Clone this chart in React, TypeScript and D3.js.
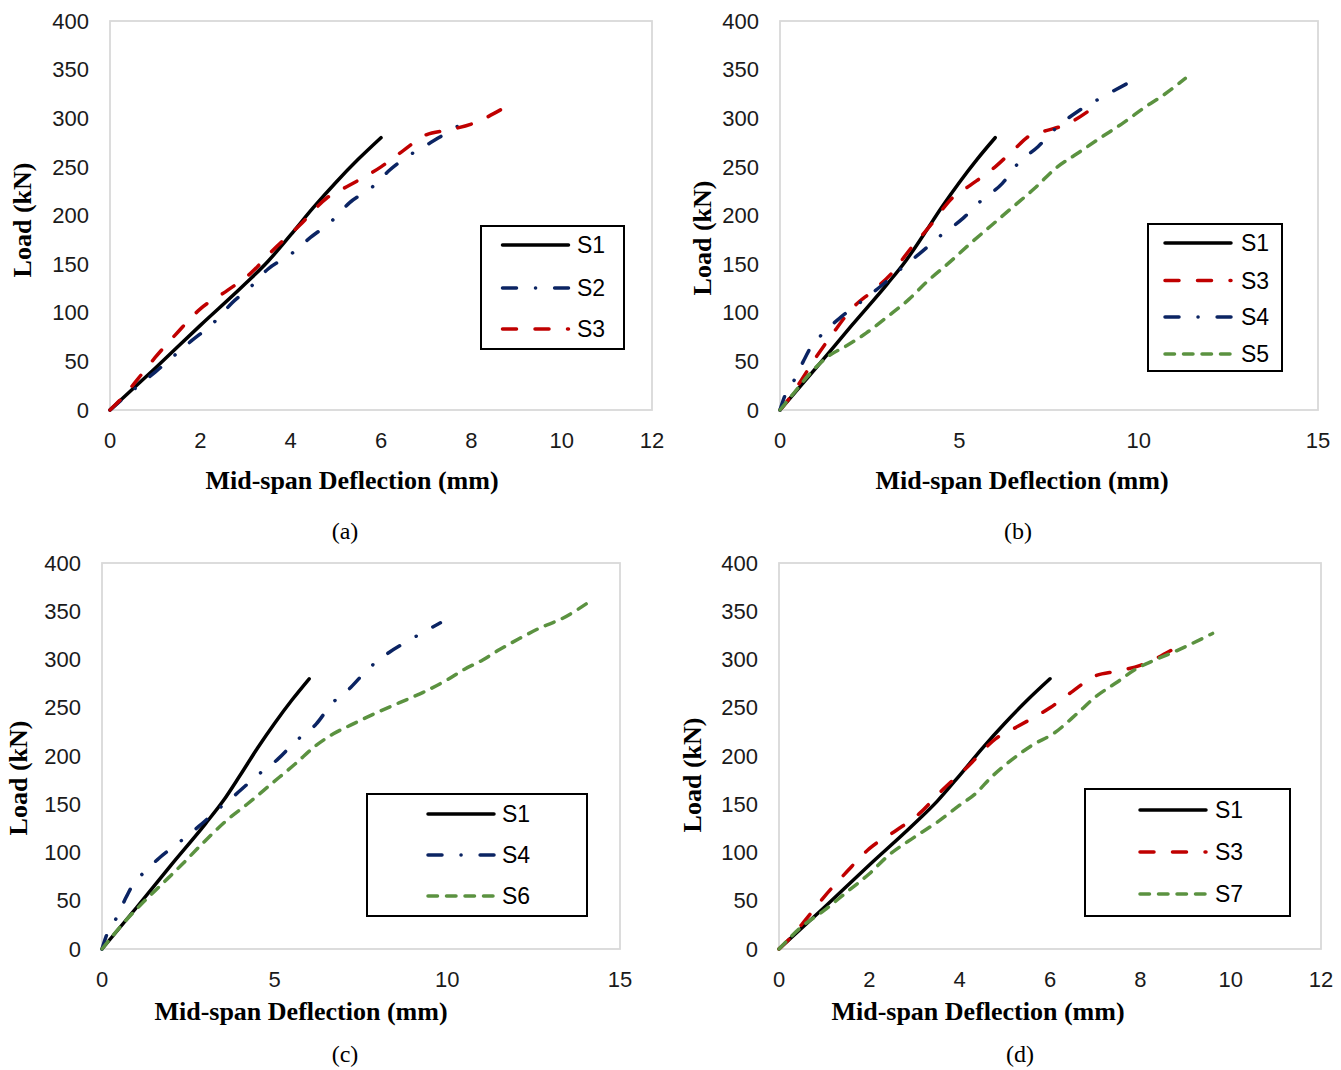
import React, { useEffect } from "react";
import * as d3 from "d3";

// axis ticks
const yTicks = [0, 50, 100, 150, 200, 250, 300, 350, 400];
const xTicks12 = [0, 2, 4, 6, 8, 10, 12];
const xTicks15 = [0, 5, 10, 15];

// load-deflection curves, [deflection mm, load kN]
const s1Data = [
  [0, 0], [1, 43], [2, 87], [3, 130], [3.5, 153], [4, 180],
  [4.5, 208], [5, 234], [5.5, 258], [6, 280],
];
const s2Data = [
  [0, 0], [0.5, 20], [1, 39], [1.8, 71], [2.3, 90], [2.7, 110], [3.1, 126],
  [3.5, 145], [4, 160], [4.4, 176], [4.9, 194], [5.3, 213], [5.8, 229],
  [6.2, 247], [6.6, 261], [7.1, 275], [7.6, 289], [8, 300],
];
const s3Data = [
  [0, 0], [0.3, 14], [0.6, 31], [1, 54], [1.5, 80], [2, 104], [2.6, 123],
  [3.1, 140], [3.6, 164], [4.2, 190], [4.8, 218], [5.3, 231], [6, 250],
  [6.5, 267], [7, 283], [7.5, 288], [8, 294], [8.7, 310],
];
const s4Data = [
  [0, 0], [0.13, 14], [0.4, 31], [0.65, 50], [0.85, 64], [1.15, 77],
  [1.65, 94], [2.25, 111], [2.8, 127], [3.4, 146], [3.9, 161], [4.5, 180],
  [5.1, 197], [5.6, 215], [6.2, 233], [6.65, 254], [7.2, 271], [7.7, 290],
  [8.3, 307], [8.9, 320], [9.8, 338],
];
const s5Data = [
  [0, 0], [0.4, 18], [0.8, 36], [1.3, 54], [1.9, 67], [2.4, 79], [3, 96],
  [3.6, 114], [4.1, 132], [4.7, 151], [5.3, 171], [5.9, 190], [6.5, 209],
  [7.1, 228], [7.7, 249], [8.3, 264], [8.9, 279], [9.6, 296], [10.2, 312],
  [10.7, 324], [11.3, 341],
];
const s6Data = [
  [0, 0], [0.6, 26], [1.1, 45], [1.7, 66], [2.3, 87], [2.9, 109], [3.6, 133],
  [4.2, 150], [4.9, 171], [5.6, 192], [6.2, 211], [6.7, 223], [7.2, 232],
  [7.9, 244], [8.6, 255], [9.3, 266], [10, 279], [10.5, 290], [11, 299],
  [11.5, 310], [12.1, 322], [12.7, 333], [13.3, 342], [14.2, 362],
];
const s7Data = [
  [0, 0], [0.5, 23], [1, 40], [1.5, 59], [2, 78], [2.4, 96], [3, 116],
  [3.55, 133], [4, 149], [4.35, 161], [4.7, 178], [5.15, 196], [5.6, 211],
  [6.1, 224], [6.6, 244], [7, 261], [7.5, 277], [7.9, 290], [8.3, 299],
  [8.8, 309], [9.6, 327],
];

const seriesData: Record<string, number[][]> = {
  S1: s1Data, S2: s2Data, S3: s3Data, S4: s4Data,
  S5: s5Data, S6: s6Data, S7: s7Data,
};

const navy = "#0b2463";
const red = "#c00000";
const green = "#5b9240";
const styles: Record<string, { color: string; dash: string }> = {
  S1: { color: "#000", dash: "none" },
  S2: { color: navy, dash: "14,19,0.1,19" },
  S3: { color: red, dash: "14,18.5" },
  S4: { color: navy, dash: "14,19,0.1,19" },
  S5: { color: green, dash: "9.5,9" },
  S6: { color: green, dash: "9.5,9" },
  S7: { color: green, dash: "9.5,9" },
};

const panels = [
  {
    caption: "(a)", names: ["S1", "S2", "S3"], xMax: 12, xTicks: xTicks12,
    plot: { l: 110, r: 652, t: 21, b: 410 },
    yTitle: [22, 220], xTitle: [352, 480], cap: [345, 531],
    legend: { x: 481, y: 226, w: 143, h: 123, rows: [245, 288, 329], x1: 502.5, tx: 577 },
  },
  {
    caption: "(b)", names: ["S1", "S3", "S4", "S5"], xMax: 15, xTicks: xTicks15,
    plot: { l: 780, r: 1318, t: 21, b: 410 },
    yTitle: [702, 238], xTitle: [1022, 480], cap: [1018, 531],
    legend: { x: 1148, y: 224, w: 134, h: 147, rows: [243, 280.5, 317, 354], x1: 1165, tx: 1241 },
  },
  {
    caption: "(c)", names: ["S1", "S4", "S6"], xMax: 15, xTicks: xTicks15,
    plot: { l: 102, r: 620, t: 563, b: 949 },
    yTitle: [18, 778], xTitle: [301, 1011], cap: [345, 1054],
    legend: { x: 367, y: 794, w: 220, h: 122, rows: [814, 855, 896], x1: 428, tx: 502 },
  },
  {
    caption: "(d)", names: ["S1", "S3", "S7"], xMax: 12, xTicks: xTicks12,
    plot: { l: 779, r: 1321, t: 563, b: 949 },
    yTitle: [692, 775], xTitle: [978, 1011], cap: [1020, 1054],
    legend: { x: 1085, y: 789, w: 205, h: 127, rows: [810, 852, 894], x1: 1140, tx: 1215 },
  },
];

const sans = "'Liberation Sans', Arial, sans-serif";
const serif = "'Liberation Serif', 'Times New Roman', serif";
const legendLen = 66;

function Panel({ p }: { p: (typeof panels)[number] }) {
  const x = d3.scaleLinear().domain([0, p.xMax]).range([p.plot.l, p.plot.r]);
  const y = d3.scaleLinear().domain([0, 400]).range([p.plot.b, p.plot.t]);
  const line = d3
    .line<number[]>()
    .x((d) => x(d[0]))
    .y((d) => y(d[1]))
    .curve(d3.curveMonotoneX);
  const lg = p.legend;
  return (
    <g>
      <rect
        x={p.plot.l}
        y={p.plot.t}
        width={p.plot.r - p.plot.l}
        height={p.plot.b - p.plot.t}
        fill="none"
        stroke="#d9d9d9"
        strokeWidth={1.8}
      />
      {yTicks.map((t) => (
        <text key={"y" + t} x={p.plot.l - 21} y={y(t)} dy="0.35em" textAnchor="end"
          fontFamily={sans} fontSize={22} fill="#1a1a1a">{t}</text>
      ))}
      {p.xTicks.map((t) => (
        <text key={"x" + t} x={x(t)} y={p.plot.b + 30} dy="0.35em" textAnchor="middle"
          fontFamily={sans} fontSize={22} fill="#1a1a1a">{t}</text>
      ))}
      {p.names.map((n) => (
        <path key={n} d={line(seriesData[n]) || ""} fill="none" stroke={styles[n].color}
          strokeWidth={3.5} strokeDasharray={styles[n].dash} strokeLinecap="round" strokeLinejoin="round" />
      ))}
      <text transform={`translate(${p.yTitle[0]},${p.yTitle[1]}) rotate(-90)`} dy="0.35em"
        textAnchor="middle" fontFamily={serif} fontWeight="bold" fontSize={26}>Load (kN)</text>
      <text x={p.xTitle[0]} y={p.xTitle[1]} dy="0.35em" textAnchor="middle"
        fontFamily={serif} fontWeight="bold" fontSize={26}>Mid-span Deflection (mm)</text>
      <text x={p.cap[0]} y={p.cap[1]} dy="0.35em" textAnchor="middle"
        fontFamily={serif} fontSize={24}>{p.caption}</text>
      <rect x={lg.x} y={lg.y} width={lg.w} height={lg.h} fill="#fff" stroke="#000" strokeWidth={2} />
      {p.names.map((n, i) => (
        <g key={"lg" + n}>
          <line x1={lg.x1} x2={lg.x1 + legendLen} y1={lg.rows[i]} y2={lg.rows[i]} stroke={styles[n].color}
            strokeWidth={3.5} strokeDasharray={styles[n].dash} strokeLinecap="round" />
          <text x={lg.tx} y={lg.rows[i]} dy="0.35em" fontFamily={sans} fontSize={23} fill="#000">{n}</text>
        </g>
      ))}
    </g>
  );
}

export default function App() {
  useEffect(() => {
    document.body.style.margin = "0";
  }, []);
  return (
    <svg width={1341} height={1070} style={{ display: "block", background: "#fff" }}>
      {panels.map((p) => (
        <Panel key={p.caption} p={p} />
      ))}
    </svg>
  );
}
